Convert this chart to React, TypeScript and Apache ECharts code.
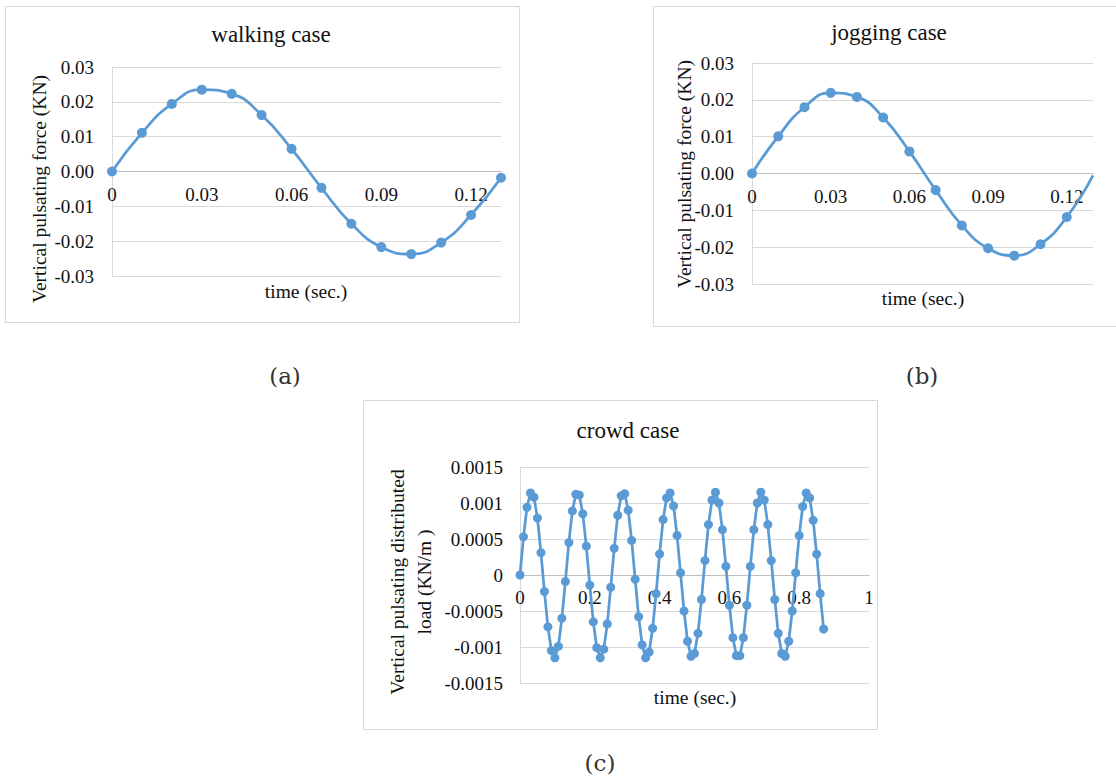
import React, { useEffect, useRef } from "react";
import * as echarts from "echarts";

const walkTime = [0, 0.01, 0.02, 0.03, 0.04, 0.05, 0.06, 0.07, 0.08, 0.09, 0.1, 0.11, 0.12, 0.13];
const walkForce = [0, 0.0111, 0.0194, 0.0235, 0.0223, 0.0162, 0.0065, -0.0047, -0.015, -0.0217, -0.0237, -0.0204, -0.0125, -0.0018];

const jogTime = [0, 0.01, 0.02, 0.03, 0.04, 0.05, 0.06, 0.07, 0.08, 0.09, 0.1, 0.11, 0.12, 0.13];
const jogForce = [0, 0.0101, 0.018, 0.0219, 0.0208, 0.0152, 0.006, -0.0045, -0.0141, -0.0203, -0.0223, -0.0192, -0.0118, -0.0005];

const crowdLoad = [
  0, 0.00053, 0.00094, 0.00114, 0.00108, 0.00079, 0.00031, -0.00023, -0.00072, -0.00105,
  -0.00115, -0.00099, -0.0006, -0.00009, 0.00045, 0.00089, 0.00112, 0.00111, 0.00085, 0.0004,
  -0.00014, -0.00065, -0.00101, -0.00115, -0.00103, -0.00068, -0.00017, 0.00037, 0.00083, 0.0011,
  0.00113, 0.0009, 0.00048, -0.00006, -0.00058, -0.00097, -0.00115, -0.00107, -0.00074, -0.00026,
  0.00029, 0.00077, 0.00107, 0.00114, 0.00096, 0.00055, 0.00003, -0.0005, -0.00092, -0.00113,
  -0.00109, -0.00081, -0.00034, 0.0002, 0.0007, 0.00104, 0.00115, 0.001, 0.00063, 0.00012,
  -0.00042, -0.00087, -0.00112, -0.00112, -0.00087, -0.00042, 0.00012, 0.00063, 0.001, 0.00115,
  0.00104, 0.0007, 0.0002, -0.00034, -0.00081, -0.00109, -0.00113, -0.00092, -0.0005, 0.00003,
  0.00055, 0.00095, 0.00114, 0.00107, 0.00076, 0.00029, -0.00026, -0.00075,
];
const crowdStep = 0.01;

const titles = ["walking case", "jogging case", "crowd case"];
const xName = "time (sec.)";
const yNameForce = "Vertical pulsating force (KN)";
const yNameLoad = "Vertical pulsating distributed\nload (KN/m )";
const panelLabels = ["(a)", "(b)", "(c)"];

const BLUE = "#5b9bd5";
const GRID = "#d9d9d9";
const SERIF = "Liberation Serif";
const TXT = "#111";

export default function App() {
  const ref = useRef<HTMLDivElement>(null);
  useEffect(() => {
    document.body.style.margin = "0";
    const chart = echarts.init(ref.current!, null, { renderer: "svg" });

    const walkData = walkTime.map((t, i) => [t, walkForce[i]]);
    const jogData = jogTime.map((t, i) => {
      const item: any = { value: [t, jogForce[i]] };
      if (i === jogTime.length - 1) item.symbol = "none";
      return item;
    });
    const crowdData = crowdLoad.map((v, i) => [+(i * crowdStep).toFixed(2), v]);

    const fmt2 = (v: number) => (Math.abs(v) < 1e-12 ? "0" : v.toFixed(2));
    const fmtY2 = (v: number) => (Math.abs(v) < 1e-12 ? "0.00" : v.toFixed(2));
    const fmt4 = (v: number) => String(+v.toFixed(4));

    const labelStyle = { color: TXT, fontFamily: SERIF, fontSize: 19 };

    const grids = [
      { left: 112, top: 67, width: 389, height: 209 },
      { left: 752, top: 63, width: 341, height: 221 },
      { left: 520, top: 467, width: 349, height: 216 },
    ];

    const xAxisBase = (gridIndex: number, max: number, interval: number, formatter: any, margin: number, showMax: boolean) => ({
      type: "value",
      gridIndex,
      min: 0,
      max,
      interval,
      position: "bottom",
      offset: -grids[gridIndex].height / 2,
      axisLine: { show: true, onZero: false, lineStyle: { color: "#bfbfbf", width: 1 } },
      axisTick: { show: false },
      splitLine: { show: false },
      axisLabel: { ...labelStyle, margin, formatter, showMaxLabel: showMax, showMinLabel: true },
    });
    const yAxisBase = (gridIndex: number, min: number, max: number, interval: number, formatter: any, margin: number) => ({
      type: "value",
      gridIndex,
      min,
      max,
      interval,
      axisLine: { show: true, lineStyle: { color: GRID, width: 1 } },
      axisTick: { show: false },
      splitLine: { show: true, lineStyle: { color: GRID, width: 1 } },
      axisLabel: { ...labelStyle, margin, formatter },
    });

    const txt = (x: number, y: number, text: string, size: number, extra: any = {}) => ({
      type: "text",
      x,
      y,
      ...extra,
      style: {
        text,
        fill: TXT,
        font: `${size}px "${SERIF}"`,
        align: "center",
        verticalAlign: "middle",
        ...(extra.style || {}),
      },
    });

    chart.setOption({
      animation: false,
      backgroundColor: "#ffffff",
      grid: grids,
      xAxis: [
        xAxisBase(0, 0.13, 0.03, fmt2, 13, false),
        xAxisBase(1, 0.13, 0.03, fmt2, 13, false),
        xAxisBase(2, 1, 0.2, fmt4, 13, true),
      ],
      yAxis: [
        yAxisBase(0, -0.03, 0.03, 0.01, fmtY2, 18),
        yAxisBase(1, -0.03, 0.03, 0.01, fmtY2, 18),
        yAxisBase(2, -0.0015, 0.0015, 0.0005, fmt4, 17),
      ],
      series: [
        {
          type: "line",
          xAxisIndex: 0,
          yAxisIndex: 0,
          data: walkData,
          smooth: 0.5,
          symbol: "circle",
          symbolSize: 10,
          lineStyle: { color: BLUE, width: 2.75 },
          itemStyle: { color: BLUE },
          z: 5,
        },
        {
          type: "line",
          xAxisIndex: 1,
          yAxisIndex: 1,
          data: jogData,
          smooth: 0.5,
          symbol: "circle",
          symbolSize: 10,
          lineStyle: { color: BLUE, width: 2.75 },
          itemStyle: { color: BLUE },
          z: 5,
        },
        {
          type: "line",
          xAxisIndex: 2,
          yAxisIndex: 2,
          data: crowdData,
          smooth: false,
          symbol: "circle",
          symbolSize: 9,
          lineStyle: { color: BLUE, width: 2.75 },
          itemStyle: { color: BLUE },
          z: 5,
        },
      ],
      graphic: [
        { type: "rect", shape: { x: 5.5, y: 6.5, width: 514, height: 316 }, style: { fill: "none", stroke: GRID, lineWidth: 1 }, silent: true },
        { type: "rect", shape: { x: 653.5, y: 6.5, width: 480, height: 320 }, style: { fill: "none", stroke: GRID, lineWidth: 1 }, silent: true },
        { type: "rect", shape: { x: 363.5, y: 400.5, width: 514, height: 329 }, style: { fill: "none", stroke: GRID, lineWidth: 1 }, silent: true },
        txt(271, 34, titles[0], 23),
        txt(889, 32, titles[1], 23),
        txt(628, 430, titles[2], 23),
        txt(306, 291, xName, 19.5),
        txt(923, 298, xName, 19.5),
        txt(695, 697, xName, 19.5),
        txt(39, 189, yNameForce, 19.5, { rotation: Math.PI / 2 }),
        txt(684, 174, yNameForce, 19.5, { rotation: Math.PI / 2 }),
        txt(411, 582, yNameLoad, 19.5, { rotation: Math.PI / 2, style: { lineHeight: 27 } }),
        {
          type: "text",
          x: 285,
          y: 376,
          style: { text: panelLabels[0], fill: "#333", font: '23px "DejaVu Serif"', align: "center", verticalAlign: "middle" },
        },
        {
          type: "text",
          x: 922,
          y: 376,
          style: { text: panelLabels[1], fill: "#333", font: '23px "DejaVu Serif"', align: "center", verticalAlign: "middle" },
        },
        {
          type: "text",
          x: 600,
          y: 763,
          style: { text: panelLabels[2], fill: "#333", font: '23px "DejaVu Serif"', align: "center", verticalAlign: "middle" },
        },
      ],
    });
    return () => chart.dispose();
  }, []);
  return <div ref={ref} style={{ position: "absolute", left: 0, top: 0, width: 1116, height: 780 }} />;
}
